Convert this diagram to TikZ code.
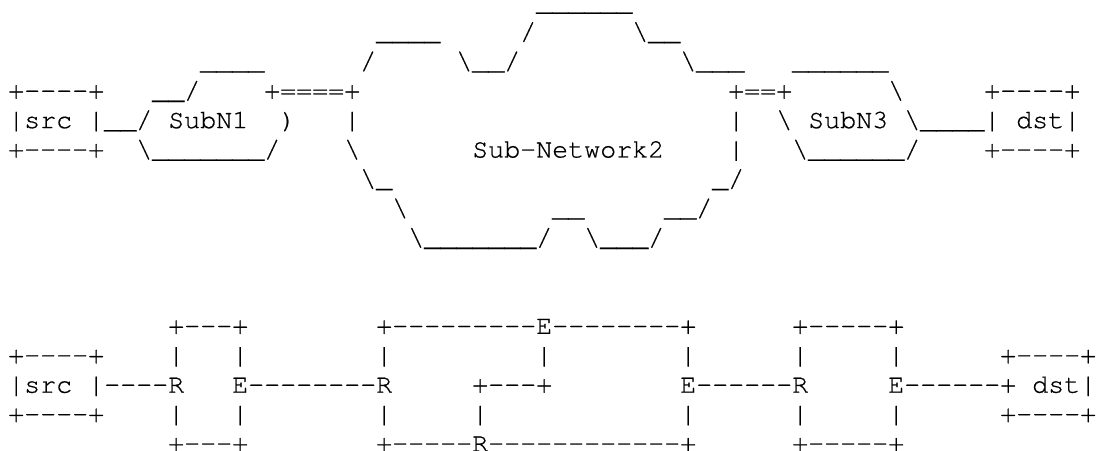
\documentclass[tikz,border=0pt]{standalone}
\usepackage{fontspec}
\setmonofont[FakeBold = 0.6]{texgyrecursor-regular.otf}

\newcommand{\bsl}{\textbackslash}

\tikzset{
	ascii/.style = {anchor = base west, inner sep = 0pt, text = black,
		font = \ttfamily\fontsize{26.67}{29.4}\selectfont}
}

\begin{document}
\begin{tikzpicture}[x = 16pt, y = -29.4pt]

	\useasboundingbox (0, 0) rectangle (68.625, 15.34);

	% Upper sketch: src, the three sub-networks and dst
	
	\foreach \c/\r/\t in {33/0/{\_\_\_\_\_\_},
			23/1/{\_\_\_\_}, 32/1/{/}, 39/1/{\bsl\_\_},
			12/2/{\_\_\_\_}, 22/2/{/}, 28/2/{\bsl\_\_/}, 42/2/{\bsl\_\_\_}, 49/2/{\_\_\_\_\_\_},
			0/3/{+----+}, 9/3/{\_\_/}, 16/3/{+====+}, 45/3/{+==+}, 55/3/{\bsl}, 61/3/{+----+},
			0/4/{|src |\_\_/ SubN1}, 17/4/{)}, 21/4/{|}, 45/4/{|}, 48/4/{\bsl{} SubN3 \bsl\_\_\_\_| dst|},
			0/5/{+----+}, 8/5/{\bsl\_\_\_\_\_\_\_/}, 21/5/{\bsl}, 29/5/{Sub-Network2}, 45/5/{|}, 49/5/{\bsl\_\_\_\_\_\_/}, 61/5/{+----+},
			22/6/{\bsl\_}, 44/6/{\_/},
			24/7/{\bsl}, 34/7/{\_\_}, 41/7/{\_\_/},
			25/8/{\bsl\_\_\_\_\_\_\_/}, 36/8/{\bsl\_\_\_/}}
		\node [ascii] (up-\r-\c) at (\c + 0.5, \r + 0.357) {\t};
	
	% Lower sketch: the same path through routers and edges
	
	\foreach \c/\r/\t in {10/11/{+---+}, 23/11/{+---------E--------+}, 49/11/{+-----+},
			0/12/{+----+}, 10/12/{|}, 14/12/{|}, 23/12/{|}, 33/12/{|}, 42/12/{|}, 49/12/{|}, 55/12/{|}, 62/12/{+----+},
			0/13/{|src |----R}, 14/13/{E--------R}, 29/13/{+---+}, 42/13/{E------R}, 55/13/{E------+ dst|},
			0/14/{+----+}, 10/14/{|}, 14/14/{|}, 23/14/{|}, 29/14/{|}, 42/14/{|}, 49/14/{|}, 55/14/{|}, 62/14/{+----+},
			10/15/{+---+}, 23/15/{+-----R------------+}, 49/15/{+-----+}}
		\node [ascii] (low-\r-\c) at (\c + 0.5, \r + 0.357) {\t};

\end{tikzpicture}
\end{document}
